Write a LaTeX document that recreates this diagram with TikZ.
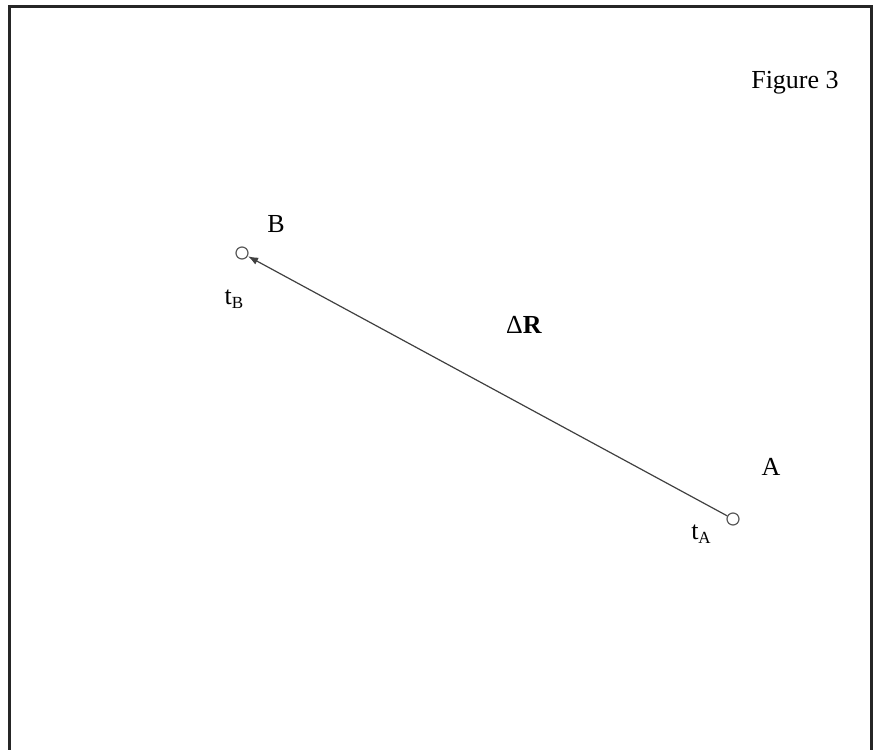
\documentclass[tikz,border=0pt]{standalone}
\usepackage{fontspec}
\setmainfont{Liberation Serif}
\usepackage{tikz}
\usetikzlibrary{arrows.meta}

\newcommand{\lowsub}[1]{\raisebox{-2.2pt}{\fontsize{8.5}{9}\selectfont #1}}

\begin{document}
\begin{tikzpicture}[
        x=0.5pt, y=-0.5pt,
        frame/.style={
            line width=1.5pt,
            black!85
        },
        point/.style={
            circle,
            draw=black!65,
            line width=0.6pt,
            fill=white,
            inner sep=0pt,
            minimum size=6pt
        },
        lbl/.style={
            font=\fontsize{13}{15}\selectfont,
            inner sep=0pt
        },
        arrow/.style={
            -{Latex[length=5pt, width=3.8pt]},
            line width=0.6pt,
            black!75,
            shorten >=0.2pt
        }
    ]

    \useasboundingbox (0,0) rectangle (875,750);

    % --------------------------------------------------------
    % Frame (open at the bottom)
    % --------------------------------------------------------

    \draw[frame]
        (9.5,752) |- (871.5,6.5) -- (871.5,752);

    % --------------------------------------------------------
    % Points
    % --------------------------------------------------------

    \node[point] (B) at (242,253) {};
    \node[point] (A) at (733,519) {};

    % --------------------------------------------------------
    % Labels
    % --------------------------------------------------------

    \node[lbl] (labelB) at (276,224) {B};
    \node[lbl] (timeB) at (234,299) {t\lowsub{B}};
    \node[lbl] (labelA) at (771,467) {A};
    \node[lbl] (timeA) at (701,534) {t\lowsub{A}};
    \node[lbl] (deltaR) at (524,325) {Δ\textbf{R}};
    \node[lbl] (title) at (795,83) {Figure 3};

    % --------------------------------------------------------
    % Displacement
    % --------------------------------------------------------

    \draw[arrow]
        (A) -- (B);

\end{tikzpicture}
\end{document}
